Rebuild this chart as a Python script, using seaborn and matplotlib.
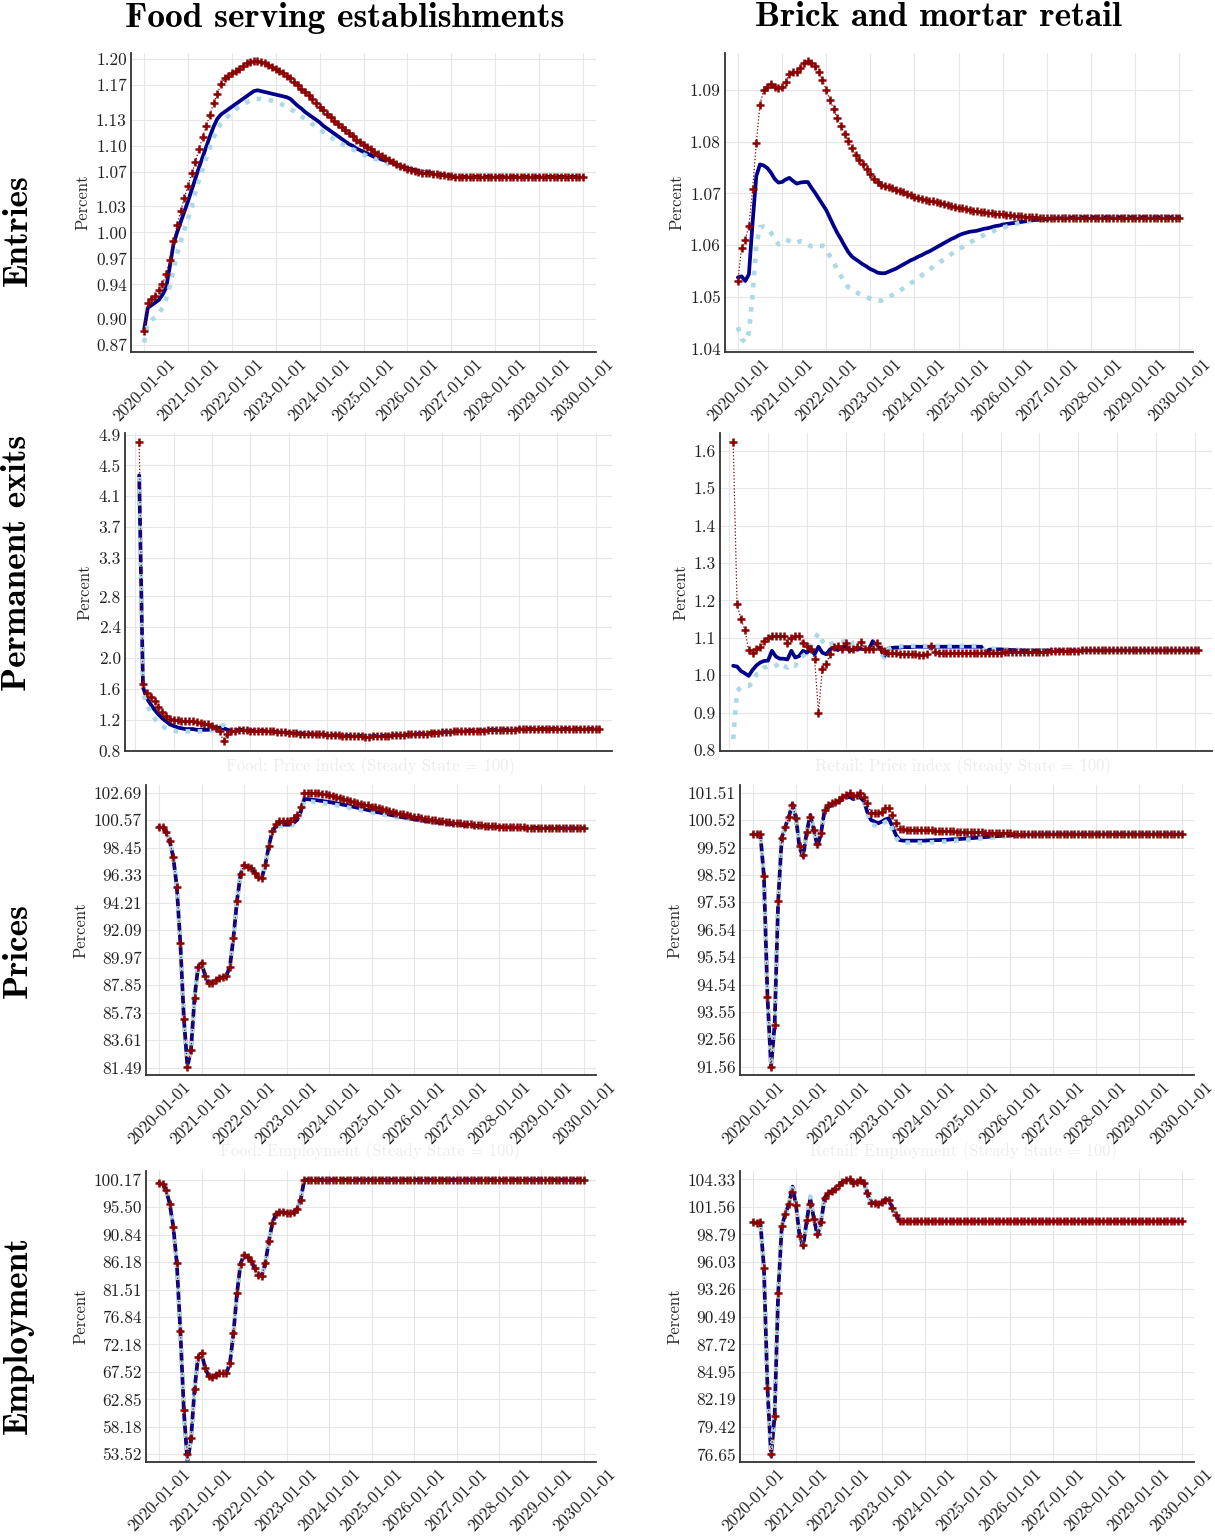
import matplotlib
matplotlib.use("Agg")
import matplotlib.pyplot as plt
import seaborn as sns
import numpy as np

sns.set_theme(style="white")
plt.rcParams["font.family"] = "serif"
plt.rcParams["font.serif"] = ["cmr10", "DejaVu Serif"]
plt.rcParams["mathtext.fontset"] = "cm"
plt.rcParams["axes.unicode_minus"] = False
plt.rcParams["axes.formatter.use_mathtext"] = True

# ---------------------------------------------------------------- labels
col_titles = ["Food serving establishments", "Brick and mortar retail"]
row_titles = ["Entries", "Permanent exits", "Prices", "Employment"]
date_labels = ["2020-01-01", "2021-01-01", "2022-01-01", "2023-01-01", "2024-01-01",
               "2025-01-01", "2026-01-01", "2027-01-01", "2028-01-01", "2029-01-01",
               "2030-01-01"]
hidden_titles = ["Food: Price index (Steady State = 100)",
                 "Retail: Price index (Steady State = 100)",
                 "Food: Employment (Steady State = 100)",
                 "Retail: Employment (Steady State = 100)"]

months = list(range(0, 121))
months_exit = list(range(1, 122))

# ---------------------------------------------------------------- Entries: food
entry_food_red = [
    0.886, 0.919, 0.923, 0.927, 0.933, 0.940, 0.952, 0.968, 0.990, 1.008,
    1.025, 1.040, 1.054, 1.068, 1.081, 1.096, 1.110, 1.123, 1.136, 1.149,
    1.160, 1.171, 1.178, 1.181, 1.184, 1.186, 1.189, 1.192, 1.195, 1.197,
    1.198, 1.198, 1.197, 1.195, 1.193, 1.191, 1.189, 1.186, 1.184, 1.181,
    1.178, 1.174, 1.170, 1.166, 1.162, 1.158, 1.154, 1.149, 1.145, 1.141,
    1.137, 1.133, 1.129, 1.125, 1.122, 1.118, 1.115, 1.111, 1.107, 1.104,
    1.101, 1.098, 1.096, 1.093, 1.091, 1.088, 1.086, 1.084, 1.081, 1.079,
    1.077, 1.075, 1.073, 1.072, 1.071, 1.070, 1.069, 1.069, 1.068, 1.067,
    1.067, 1.066, 1.066, 1.065, 1.065] + [1.064] * 36
entry_food_blue = [
    0.888, 0.913, 0.916, 0.919, 0.922, 0.928, 0.936, 0.960, 0.986, 1.000,
    1.012, 1.024, 1.036, 1.049, 1.062, 1.075, 1.087, 1.099, 1.111, 1.122,
    1.131, 1.136, 1.139, 1.142, 1.145, 1.148, 1.151, 1.154, 1.157, 1.160,
    1.163, 1.164, 1.163, 1.162, 1.161, 1.160, 1.159, 1.158, 1.157, 1.156,
    1.154, 1.150, 1.146, 1.143, 1.139, 1.136, 1.133, 1.130, 1.127, 1.123,
    1.120, 1.117, 1.114, 1.111, 1.108, 1.105, 1.102, 1.100, 1.097, 1.095,
    1.093, 1.091, 1.089, 1.087, 1.086, 1.084, 1.083, 1.081, 1.080, 1.078,
    1.077, 1.075, 1.074, 1.073, 1.072, 1.071, 1.070, 1.069, 1.069, 1.068,
    1.067, 1.067, 1.066, 1.066, 1.065] + [1.064] * 36
entry_food_light = [
    0.873, 0.895, 0.899, 0.902, 0.906, 0.913, 0.923, 0.938, 0.956, 0.975,
    0.990, 1.003, 1.016, 1.029, 1.046, 1.060, 1.073, 1.086, 1.098, 1.109,
    1.119, 1.126, 1.131, 1.134, 1.139, 1.142, 1.145, 1.148, 1.150, 1.152,
    1.154, 1.154, 1.154, 1.153, 1.153, 1.152, 1.151, 1.149, 1.147, 1.145,
    1.142, 1.140, 1.137, 1.134, 1.131, 1.128, 1.125, 1.122, 1.119, 1.116,
    1.113, 1.110, 1.107, 1.104, 1.102, 1.100, 1.098, 1.096, 1.094, 1.092,
    1.090, 1.088, 1.087, 1.085, 1.084, 1.082, 1.081, 1.079, 1.078, 1.076,
    1.074, 1.073, 1.072, 1.071, 1.070, 1.069, 1.069, 1.068, 1.068, 1.067,
    1.067, 1.066, 1.066, 1.065, 1.065] + [1.064] * 36
entry_food_ticks = ["0.87", "0.90", "0.94", "0.97", "1.00", "1.03", "1.07", "1.10",
                    "1.13", "1.17", "1.20"]

# ---------------------------------------------------------------- Entries: retail
entry_retail_red = [
    1.0531, 1.0595, 1.0611, 1.0638, 1.0708, 1.0797, 1.0871, 1.0900, 1.0906, 1.0911,
    1.0906, 1.0903, 1.0906, 1.0916, 1.0930, 1.0935, 1.0935, 1.0942, 1.0951, 1.0956,
    1.0951, 1.0945, 1.0934, 1.0919, 1.0900, 1.0881, 1.0863, 1.0846, 1.0831, 1.0815,
    1.0801, 1.0787, 1.0775, 1.0764, 1.0756, 1.0747, 1.0738, 1.0728, 1.0722, 1.0717,
    1.0714, 1.0712, 1.0710, 1.0707, 1.0705, 1.0702, 1.0699, 1.0697, 1.0694, 1.0692,
    1.0690, 1.0688, 1.0686, 1.0685, 1.0683, 1.0681, 1.0679, 1.0677, 1.0675, 1.0673,
    1.0672, 1.0671, 1.0669, 1.0668, 1.0667, 1.0666, 1.0665, 1.0664, 1.0663, 1.0662,
    1.0661, 1.0661, 1.0660, 1.0659, 1.0658, 1.0657, 1.0656, 1.0656, 1.0655, 1.0655,
    1.0654, 1.0654, 1.0653, 1.0653, 1.0653] + [1.0652] * 36
entry_retail_blue = [
    1.0538, 1.0540, 1.0531, 1.0544, 1.0644, 1.0733, 1.0756, 1.0754, 1.0749, 1.0740,
    1.0728, 1.0721, 1.0722, 1.0727, 1.0730, 1.0724, 1.0719, 1.0721, 1.0722, 1.0722,
    1.0711, 1.0701, 1.0690, 1.0679, 1.0668, 1.0653, 1.0638, 1.0624, 1.0612, 1.0599,
    1.0587, 1.0578, 1.0573, 1.0568, 1.0563, 1.0559, 1.0554, 1.0551, 1.0547, 1.0546,
    1.0546, 1.0549, 1.0552, 1.0555, 1.0559, 1.0563, 1.0567, 1.0571, 1.0574, 1.0578,
    1.0581, 1.0585, 1.0588, 1.0592, 1.0596, 1.0600, 1.0604, 1.0608, 1.0612, 1.0615,
    1.0619, 1.0622, 1.0624, 1.0626, 1.0627, 1.0628, 1.0630, 1.0632, 1.0633, 1.0635,
    1.0637, 1.0638, 1.0640, 1.0641, 1.0642, 1.0643, 1.0644, 1.0645, 1.0646, 1.0647,
    1.0648, 1.0649, 1.0649, 1.0650, 1.0650] + [1.0652] * 6 + [1.0654] * 30
entry_retail_light = [
    1.0442, 1.0419, 1.0413, 1.0432, 1.0503, 1.0599, 1.0635, 1.0636, 1.0632, 1.0624,
    1.0613, 1.0602, 1.0605, 1.0611, 1.0608, 1.0604, 1.0605, 1.0608, 1.0606, 1.0601,
    1.0598, 1.0597, 1.0599, 1.0599, 1.0592, 1.0579, 1.0567, 1.0554, 1.0541, 1.0529,
    1.0519, 1.0514, 1.0510, 1.0506, 1.0503, 1.0500, 1.0497, 1.0495, 1.0493, 1.0493,
    1.0496, 1.0500, 1.0504, 1.0508, 1.0512, 1.0517, 1.0522, 1.0527, 1.0531, 1.0537,
    1.0542, 1.0547, 1.0553, 1.0558, 1.0563, 1.0568, 1.0573, 1.0578, 1.0583, 1.0587,
    1.0592, 1.0596, 1.0601, 1.0605, 1.0609, 1.0613, 1.0617, 1.0620, 1.0623, 1.0626,
    1.0629, 1.0631, 1.0634, 1.0636, 1.0638, 1.0640, 1.0642, 1.0644, 1.0645, 1.0646,
    1.0647, 1.0648, 1.0649, 1.0650, 1.0651, 1.0652, 1.0653, 1.0654, 1.0654] + [1.0655] * 32
entry_retail_ticks = ["1.04", "1.05", "1.06", "1.07", "1.08", "1.09"]

# ---------------------------------------------------------------- Exits: food
exit_food_red_head = [
    4.80, 1.67, 1.55, 1.50, 1.44, 1.37, 1.30, 1.25, 1.21, 1.20,
    1.20, 1.19, 1.19, 1.18, 1.18, 1.17, 1.16, 1.15, 1.14, 1.12,
    1.09, 1.05, 0.92, 1.02, 1.05, 1.06, 1.07, 1.07, 1.07, 1.06]
exit_food_blue_head = [
    4.37, 1.62, 1.48, 1.40, 1.33, 1.27, 1.22, 1.18, 1.14, 1.12,
    1.10, 1.09, 1.08, 1.08, 1.08, 1.07, 1.07, 1.07, 1.07, 1.08,
    1.09, 1.10, 1.09, 1.07, 1.06, 1.06, 1.07, 1.07, 1.06, 1.06]
exit_food_light_head = [
    4.35, 1.55, 1.40, 1.30, 1.22, 1.16, 1.12, 1.09, 1.07, 1.06,
    1.05, 1.05, 1.05, 1.05, 1.05, 1.05, 1.05, 1.05, 1.05, 1.06,
    1.08, 1.11, 1.13, 1.09, 1.07, 1.06, 1.07, 1.07, 1.06, 1.06]
exit_food_tail = [
    1.06, 1.06, 1.06, 1.05, 1.05, 1.05, 1.04, 1.04, 1.04, 1.03,
    1.03, 1.03, 1.02, 1.02, 1.02, 1.01, 1.01, 1.01, 1.01, 1.00,
    1.00, 1.00, 1.00, 0.99, 0.99, 0.99, 0.99, 0.99, 0.99, 0.98,
    0.98, 0.99, 0.99, 0.99, 0.99, 0.99, 1.00, 1.00, 1.00, 1.00,
    1.01, 1.01, 1.01, 1.02, 1.02, 1.02, 1.03, 1.03, 1.03, 1.04,
    1.04, 1.04, 1.05, 1.05, 1.05, 1.05, 1.06, 1.06, 1.06, 1.06,
    1.06, 1.07, 1.07, 1.07, 1.07, 1.07, 1.07, 1.07, 1.07, 1.08] + [1.08] * 21
exit_food_ticks = ["0.8", "1.2", "1.6", "2.0", "2.4", "2.8", "3.3", "3.7", "4.1", "4.5", "4.9"]

# ---------------------------------------------------------------- Exits: retail
exit_retail_red = [
    1.624, 1.191, 1.149, 1.122, 1.066, 1.058, 1.071, 1.074, 1.091, 1.100,
    1.105, 1.106, 1.106, 1.105, 1.087, 1.100, 1.105, 1.106, 1.085, 1.078,
    1.071, 1.044, 0.900, 1.016, 1.029, 1.056, 1.074, 1.078, 1.069, 1.087,
    1.071, 1.069, 1.075, 1.089, 1.069, 1.069, 1.069, 1.087, 1.071, 1.065,
    1.060, 1.058, 1.058, 1.057, 1.057, 1.056, 1.056, 1.056, 1.055, 1.055,
    1.056, 1.078, 1.062, 1.060, 1.060, 1.060, 1.060, 1.060, 1.060, 1.060,
    1.060, 1.060, 1.060, 1.060, 1.060, 1.060, 1.060, 1.060, 1.060, 1.060,
    1.061, 1.061, 1.061, 1.061, 1.062, 1.062, 1.062, 1.062, 1.063, 1.063,
    1.063, 1.063, 1.064, 1.064, 1.064, 1.064, 1.065, 1.065, 1.065, 1.065] + [1.066] * 31
exit_retail_blue = [
    1.025, 1.023, 1.011, 1.005, 0.998, 1.014, 1.026, 1.034, 1.038, 1.039,
    1.065, 1.050, 1.044, 1.044, 1.042, 1.065, 1.047, 1.051, 1.065, 1.060,
    1.069, 1.056, 1.076, 1.060, 1.056, 1.069, 1.074, 1.067, 1.074, 1.078,
    1.065, 1.069, 1.069, 1.071, 1.069, 1.069, 1.091, 1.078, 1.071, 1.050,
    1.071, 1.073, 1.074, 1.074, 1.075, 1.075, 1.075, 1.076, 1.076, 1.076,
    1.076, 1.076, 1.076, 1.076, 1.076, 1.076, 1.076, 1.076, 1.076, 1.076,
    1.076, 1.076, 1.076, 1.076, 1.076, 1.060, 1.068, 1.069, 1.069, 1.069,
    1.068, 1.068, 1.067, 1.067, 1.067] + [1.066] * 46
exit_retail_light = [
    0.829, 0.958, 0.967, 0.971, 0.971, 0.980, 1.002, 1.007, 1.020, 1.023,
    1.020, 1.025, 1.034, 1.025, 1.020, 1.029, 1.025, 1.042, 1.051, 1.060,
    1.078, 1.096, 1.113, 1.091, 1.078, 1.082, 1.087, 1.087, 1.089, 1.091,
    1.078, 1.087, 1.089, 1.082, 1.078, 1.078, 1.078, 1.069, 1.060, 1.047,
    1.069, 1.074, 1.076, 1.077, 1.078, 1.078, 1.078, 1.078, 1.078, 1.078,
    1.078, 1.078, 1.078, 1.078, 1.078, 1.078, 1.078, 1.078, 1.078, 1.078,
    1.078, 1.078, 1.078, 1.078, 1.078, 1.062, 1.070, 1.071, 1.070, 1.070,
    1.069, 1.069, 1.068, 1.068, 1.067] + [1.066] * 46
exit_retail_ticks = ["0.8", "0.9", "1.0", "1.1", "1.2", "1.3", "1.4", "1.5", "1.6"]

# ---------------------------------------------------------------- Prices: food
price_food_head = [
    100.07, 100.02, 99.68, 98.96, 97.71, 95.44, 91.08, 85.24, 81.57, 82.85,
    86.84, 89.23, 89.54, 88.58, 87.99, 88.04, 88.25, 88.38, 88.46, 88.56,
    89.28, 91.51, 94.34, 96.40, 97.09, 96.99, 96.86, 96.52, 96.16, 96.11,
    97.11, 98.58, 99.74]
price_food_red_rest = [
    100.27, 100.51, 100.53, 100.53, 100.53, 100.71, 100.97, 101.56, 102.69, 102.69,
    102.69, 102.64, 102.64, 102.59, 102.56, 102.51, 102.44, 102.37, 102.30, 102.22,
    102.15, 102.08, 102.00, 101.92, 101.85, 101.77, 101.70, 101.62, 101.55, 101.48,
    101.41, 101.34, 101.27, 101.20, 101.14, 101.07, 101.01, 100.95, 100.89, 100.84,
    100.79, 100.74, 100.69, 100.65, 100.60, 100.56, 100.52, 100.48, 100.45, 100.41,
    100.38, 100.35, 100.32, 100.29, 100.26, 100.24, 100.21, 100.19, 100.17, 100.15,
    100.13, 100.11, 100.10, 100.08, 100.07, 100.06, 100.05, 100.04, 100.03, 100.02,
    100.01, 100.00, 99.99, 99.99, 99.98, 99.98, 99.97, 99.97, 99.96, 99.96,
    99.96, 99.95, 99.95, 99.95, 99.95, 99.94, 99.94, 99.94]
price_food_blue_rest = [
    100.10, 100.20, 100.22, 100.22, 100.22, 100.35, 100.60, 101.20, 102.20, 102.18,
    102.15, 102.12, 102.09, 102.05, 102.01, 101.97, 101.92, 101.87, 101.82, 101.76,
    101.71, 101.65, 101.59, 101.53, 101.47, 101.41, 101.35, 101.29, 101.23, 101.17,
    101.11, 101.05, 100.99, 100.94, 100.88, 100.83, 100.78, 100.73, 100.68, 100.64,
    100.59, 100.55, 100.51, 100.47, 100.44, 100.40, 100.37, 100.34, 100.31, 100.28,
    100.26, 100.23, 100.21, 100.19, 100.17, 100.15, 100.13, 100.12, 100.10, 100.09,
    100.07, 100.06, 100.05, 100.04, 100.03, 100.02, 100.01, 100.00, 99.99, 99.99,
    99.98, 99.98, 99.97, 99.97, 99.97, 99.96, 99.96, 99.96, 99.95, 99.95,
    99.95, 99.95, 99.94, 99.94, 99.94, 99.94, 99.94, 99.94]
price_food_light_rest = [
    100.00, 100.10, 100.12, 100.12, 100.12, 100.25, 100.50, 101.10, 102.05, 102.03,
    102.00, 101.97, 101.94, 101.90, 101.86, 101.82, 101.77, 101.72, 101.67, 101.62,
    101.57, 101.51, 101.46, 101.40, 101.35, 101.29, 101.23, 101.18, 101.12, 101.07,
    101.02, 100.96, 100.91, 100.86, 100.81, 100.76, 100.72, 100.67, 100.63, 100.59,
    100.55, 100.51, 100.48, 100.44, 100.41, 100.38, 100.35, 100.32, 100.29, 100.27,
    100.24, 100.22, 100.20, 100.18, 100.16, 100.14, 100.13, 100.11, 100.10, 100.08,
    100.07, 100.06, 100.05, 100.04, 100.03, 100.02, 100.01, 100.00, 99.99, 99.99,
    99.98, 99.98, 99.97, 99.97, 99.97, 99.96, 99.96, 99.96, 99.95, 99.95,
    99.95, 99.95, 99.94, 99.94, 99.94, 99.94, 99.94, 99.94]
price_food_ticks = ["81.49", "83.61", "85.73", "87.85", "89.97", "92.09", "94.21",
                    "96.33", "98.45", "100.57", "102.69"]

# ---------------------------------------------------------------- Prices: retail
price_retail_red = [
    100.01, 100.00, 100.01, 98.48, 94.10, 91.56, 93.07, 97.58, 99.88, 100.28,
    100.64, 101.06, 100.58, 99.57, 99.25, 100.09, 100.64, 100.15, 99.65, 100.03,
    100.88, 101.06, 101.12, 101.16, 101.24, 101.36, 101.43, 101.51, 101.39, 101.43,
    101.49, 101.36, 101.12, 100.78, 100.76, 100.76, 100.82, 100.94, 100.94, 100.70,
    100.40, 100.18, 100.18, 100.17, 100.17, 100.16, 100.16, 100.15, 100.15, 100.14,
    100.14, 100.13, 100.13, 100.12, 100.12, 100.11, 100.11, 100.10, 100.10, 100.09,
    100.09, 100.08, 100.08, 100.07, 100.07, 100.06, 100.06, 100.05, 100.05, 100.04,
    100.04, 100.03, 100.03, 100.02, 100.02, 100.02, 100.01, 100.01, 100.01, 100.01] + [100.00] * 41
price_retail_head = [
    100.01, 100.00, 100.01, 98.48, 94.10, 91.56, 93.07, 97.58, 99.88, 100.28,
    100.64, 101.10, 100.58, 99.50, 99.20, 100.09, 100.70, 100.15, 99.55, 100.03,
    100.88, 101.00, 101.05, 101.10, 101.18, 101.28, 101.32, 101.36, 101.28, 101.32,
    101.34, 101.20]
price_retail_blue_rest = [
    100.80, 100.52, 100.46, 100.40, 100.46, 100.54, 100.58, 100.28, 99.97, 99.79,
    99.77, 99.77, 99.77, 99.77, 99.77, 99.77, 99.77, 99.78, 99.78, 99.79,
    99.79, 99.80, 99.80, 99.81, 99.82, 99.82, 99.83, 99.84, 99.85, 99.86,
    99.87, 99.88, 99.89, 99.90, 99.91, 99.92, 99.93, 99.94, 99.95, 99.95,
    99.96, 99.97, 99.97, 99.98, 99.98, 99.99, 99.99, 99.99, 100.00] + [100.00] * 40
price_retail_light_rest = [
    100.75, 100.40, 100.33, 100.28, 100.35, 100.45, 100.50, 100.18, 99.88, 99.72,
    99.70, 99.70, 99.70, 99.70, 99.70, 99.70, 99.70, 99.71, 99.71, 99.72,
    99.72, 99.73, 99.74, 99.75, 99.76, 99.77, 99.78, 99.79, 99.80, 99.81,
    99.82, 99.84, 99.85, 99.86, 99.87, 99.88, 99.90, 99.91, 99.92, 99.93,
    99.94, 99.95, 99.95, 99.96, 99.97, 99.97, 99.98, 99.98, 99.99] + [100.00] * 40
price_retail_ticks = ["91.56", "92.56", "93.55", "94.54", "95.54", "96.54", "97.53",
                      "98.52", "99.52", "100.52", "101.51"]

# ---------------------------------------------------------------- Employment: food
emp_food_red = [
    99.60, 99.49, 98.35, 96.08, 92.22, 85.98, 74.52, 61.12, 53.52, 56.36,
    64.53, 69.98, 70.66, 68.16, 66.86, 66.57, 67.03, 67.25, 67.37, 67.31,
    68.96, 74.06, 80.87, 85.87, 87.46, 87.12, 86.32, 85.19, 84.05, 83.88,
    85.98, 89.73, 92.79, 94.38, 94.66, 94.61, 94.55, 94.49, 94.70, 95.23,
    96.77] + [100.17] * 80
emp_food_blue = [
    99.60, 99.49, 98.35, 96.08, 92.22, 85.98, 74.52, 60.80, 52.30, 56.00,
    64.53, 69.98, 70.66, 68.16, 66.86, 66.57, 67.03, 67.25, 67.37, 67.31,
    68.96, 74.06, 80.87, 85.87, 87.46, 87.12, 86.32, 85.19, 84.05, 83.88,
    85.98, 89.73, 92.79, 94.38, 94.66, 94.61, 94.55, 94.49, 94.70, 95.23,
    96.77] + [100.17] * 80
emp_food_light = [
    99.60, 99.49, 98.35, 96.08, 92.22, 85.98, 74.52, 61.00, 52.80, 56.20,
    64.53, 69.98, 70.66, 68.16, 66.86, 66.57, 67.03, 67.25, 67.37, 67.31,
    68.96, 74.06, 80.87, 85.87, 87.46, 87.12, 86.32, 85.19, 84.05, 83.88,
    85.98, 89.73, 92.79, 94.38, 94.66, 94.61, 94.55, 94.49, 94.70, 95.23,
    96.77] + [100.17] * 80
emp_food_ticks = ["53.52", "58.18", "62.85", "67.52", "72.18", "76.84", "81.51",
                  "86.18", "90.84", "95.50", "100.17"]

# ---------------------------------------------------------------- Employment: retail
emp_retail_red = [
    100.02, 99.92, 100.02, 95.42, 83.31, 76.65, 80.52, 92.86, 99.59, 100.87,
    101.81, 103.05, 101.71, 98.58, 97.74, 100.19, 101.87, 100.36, 98.78, 100.02,
    102.48, 102.95, 103.15, 103.39, 103.72, 104.06, 104.23, 104.40, 104.00, 104.06,
    104.23, 104.00, 102.95, 101.94, 101.94, 101.87, 102.04, 102.28, 102.28, 101.47,
    100.76] + [100.09] * 80
emp_retail_blue = [
    100.02, 99.92, 100.02, 95.42, 83.31, 76.50, 80.52, 92.86, 99.59, 100.87,
    101.81, 103.60, 101.71, 98.58, 97.60, 100.19, 102.40, 100.36, 98.70, 100.02,
    102.48, 102.95, 103.15, 103.39, 103.72, 104.06, 104.23, 104.40, 104.00, 104.06,
    104.23, 104.00, 102.95, 101.94, 101.94, 101.87, 102.04, 102.28, 102.28, 101.47,
    100.76] + [100.09] * 80
emp_retail_light = [
    100.02, 99.92, 100.02, 95.42, 83.31, 76.40, 80.52, 92.86, 99.59, 100.87,
    101.81, 103.90, 101.71, 98.58, 97.50, 100.19, 102.60, 100.36, 98.60, 100.02,
    102.48, 102.95, 103.15, 103.39, 103.72, 104.06, 104.23, 104.40, 104.00, 104.06,
    104.23, 104.00, 102.95, 101.94, 101.94, 101.87, 102.04, 102.28, 102.28, 101.47,
    100.76] + [100.09] * 80
emp_retail_ticks = ["76.65", "79.42", "82.19", "84.95", "87.72", "90.49", "93.26",
                    "96.03", "98.79", "101.56", "104.33"]

# ---------------------------------------------------------------- style
NAVY = "#00008B"
LIGHT = "#ADD8E6"
RED = "#8B0000"
W, H = 1215, 1539

fig = plt.figure(figsize=(W / 100, H / 100), dpi=100)


def add_axes(l, t, r, b):
    return fig.add_axes([l / W, 1 - b / H, (r - l) / W, (b - t) / H])


def draw(ax, x, blue, light, red, ytick_labels, ylim, xlim, exits=False):
    sns.lineplot(x=x, y=blue, ax=ax, color=NAVY, linewidth=2.7, linestyle="-",
                 zorder=2)
    sns.lineplot(x=x, y=light, ax=ax, color=LIGHT, linewidth=3.3, linestyle=":",
                 zorder=3)
    sns.lineplot(x=x, y=red, ax=ax, color=RED, linewidth=0.9, linestyle=":",
                 marker="+", markersize=6, markeredgewidth=1.8,
                 markeredgecolor=RED, zorder=4)
    ax.set_xlim(*xlim)
    ax.set_ylim(*ylim)
    ax.set_yticks([float(v) for v in ytick_labels])
    ax.set_yticklabels(ytick_labels)
    if exits:
        ax.set_xticks(list(range(0, 121, 10)))
        ax.set_xticklabels([])
    else:
        ax.set_xticks(list(range(0, 121, 12)))
        ax.set_xticklabels(date_labels, rotation=45, ha="center")
    ax.set_xlabel("")
    ax.set_ylabel("Percent", fontsize=12)
    ax.grid(True, color="#e6e6e6", linewidth=0.8)
    ax.set_axisbelow(True)
    for s in ["top", "right"]:
        ax.spines[s].set_visible(False)
    for s in ["left", "bottom"]:
        ax.spines[s].set_color("#333333")
        ax.spines[s].set_linewidth(1.3)
    ax.tick_params(direction="in", length=4, width=1, colors="#222222",
                   labelsize=12.5, pad=3)


ax = add_axes(131, 53, 596, 352)
draw(ax, months, entry_food_blue, entry_food_light, entry_food_red,
     entry_food_ticks, (0.862, 1.207), (-3.6, 123.6))
ax = add_axes(725, 53, 1193, 352)
draw(ax, months, entry_retail_blue, entry_retail_light, entry_retail_red,
     entry_retail_ticks, (1.0394, 1.0971), (-3.5, 123.7))

ax = add_axes(125, 433, 612, 751)
draw(ax, months_exit, exit_food_blue_head + exit_food_tail,
     exit_food_light_head + exit_food_tail, exit_food_red_head + exit_food_tail,
     exit_food_ticks, (0.795, 4.92), (-2.7, 124.3), exits=True)
ax = add_axes(720, 433, 1212, 751)
draw(ax, months_exit, exit_retail_blue, exit_retail_light, exit_retail_red,
     exit_retail_ticks, (0.797, 1.648), (-2.4, 124.5), exits=True)

ax = add_axes(146, 785, 596, 1075)
draw(ax, months, price_food_head + price_food_blue_rest,
     price_food_head + price_food_light_rest, price_food_head + price_food_red_rest,
     price_food_ticks, (80.92, 103.28), (-3.7, 123.4))
ax = add_axes(740, 785, 1194, 1075)
draw(ax, months, price_retail_head + price_retail_blue_rest,
     price_retail_head + price_retail_light_rest, price_retail_red,
     price_retail_ticks, (91.26, 101.79), (-3.7, 123.5))

ax = add_axes(146, 1171, 596, 1462)
draw(ax, months, emp_food_blue, emp_food_light, emp_food_red,
     emp_food_ticks, (52.21, 101.65), (-3.7, 123.4))
ax = add_axes(740, 1171, 1194, 1462)
draw(ax, months, emp_retail_blue, emp_retail_light, emp_retail_red,
     emp_retail_ticks, (75.88, 105.17), (-3.7, 123.5))

# faint, mostly hidden panel titles
for txt, (px, py) in zip(hidden_titles, [(370, 767), (963, 767), (370, 1152), (963, 1152)]):
    fig.text(px / W, 1 - py / H, txt, color="#ececec", fontsize=12,
             ha="center", va="center")

# column and row titles
for txt, px in zip(col_titles, [345, 938]):
    fig.text(px / W, 1 - 18 / H, txt, family="cmb10", fontsize=25.5,
             ha="center", va="center", color="black")
for txt, py in zip(row_titles, [230, 563, 950, 1335]):
    fig.text(18 / W, 1 - py / H, txt, family="cmb10", fontsize=25.5, rotation=90,
             ha="center", va="center", color="black")

fig.savefig("out.png", dpi=100, facecolor="white")
